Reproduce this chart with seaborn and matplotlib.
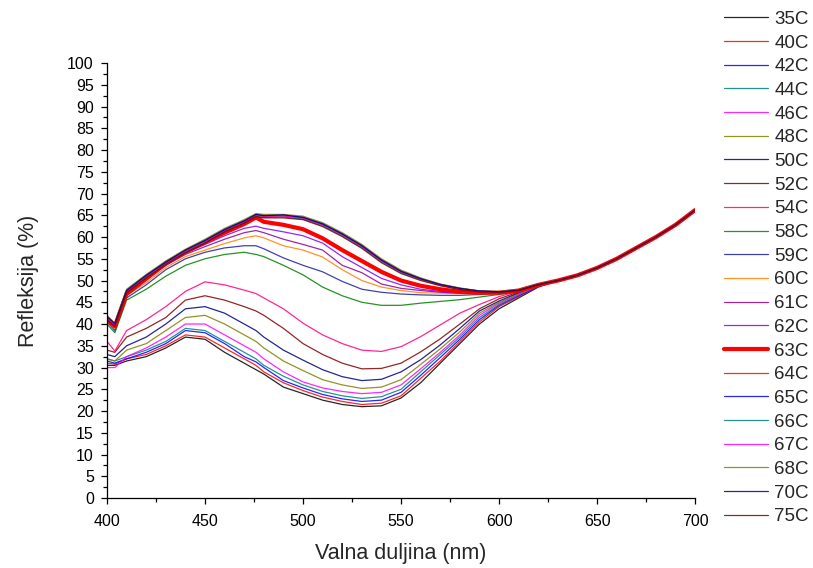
import matplotlib
matplotlib.use("Agg")
import matplotlib.pyplot as plt
import pandas as pd
import seaborn as sns
from matplotlib.ticker import MultipleLocator

# wavelengths (nm) where the curves still differ
wl_head = [400, 404, 410, 420, 430, 440, 450, 460, 470, 476, 480, 490, 500, 510,
           520, 530, 540, 550, 560, 570, 580, 590, 600, 610, 620, 630]
# above 630 nm all curves run together
wl_tail = [640, 650, 660, 670, 680, 690, 700]
r_tail = [51.2, 52.9, 55.0, 57.5, 60.0, 62.8, 66.2]

r35 = [30.5, 30.5, 31.5, 32.5, 34.5, 37.0, 36.5, 33.5, 31.0, 29.5, 28.5, 25.5, 24.0, 22.5,
       21.5, 21.0, 21.2, 23.0, 26.5, 31.0, 35.5, 40.0, 43.5, 46.0, 48.5, 50.0]
r40 = [31.0, 30.8, 32.0, 33.0, 35.0, 37.5, 37.0, 34.5, 32.0, 30.5, 29.0, 26.5, 24.7, 23.2,
       22.2, 21.5, 21.8, 23.5, 27.5, 31.5, 36.0, 40.5, 44.0, 46.3, 48.6, 50.0]
r42 = [31.5, 31.0, 32.0, 33.5, 35.5, 38.5, 38.0, 35.5, 32.5, 31.3, 30.0, 27.0, 25.3, 23.8,
       22.8, 22.2, 22.5, 24.3, 28.2, 32.3, 36.5, 41.0, 44.3, 46.5, 48.7, 50.0]
r44 = [32.0, 31.5, 32.5, 34.0, 36.0, 39.0, 38.5, 36.0, 33.5, 32.0, 30.5, 28.0, 26.0, 24.5,
       23.5, 22.9, 23.3, 25.0, 29.0, 33.0, 37.0, 41.5, 44.5, 46.7, 48.8, 50.0]
r46 = [30.0, 30.0, 32.5, 34.5, 37.0, 40.0, 40.0, 37.5, 35.0, 33.5, 32.0, 29.0, 26.7, 25.3,
       24.5, 24.0, 24.3, 26.0, 29.7, 33.5, 37.5, 42.0, 44.8, 46.8, 48.8, 50.0]
r48 = [32.0, 31.5, 34.0, 35.5, 38.5, 41.5, 42.0, 40.0, 37.5, 36.0, 34.5, 31.5, 29.3, 27.2,
       26.0, 25.2, 25.5, 27.2, 30.7, 34.3, 38.2, 42.5, 45.0, 47.0, 48.9, 50.0]
r50 = [33.0, 32.5, 35.0, 37.0, 40.0, 43.5, 44.0, 42.5, 40.0, 38.5, 37.0, 34.0, 31.7, 29.5,
       27.9, 27.0, 27.3, 29.0, 31.8, 35.2, 39.0, 43.0, 45.3, 47.2, 49.0, 50.0]
r52 = [34.0, 33.5, 37.0, 39.0, 41.5, 45.5, 46.5, 45.5, 44.0, 43.0, 42.0, 39.0, 35.5, 33.0,
       31.0, 29.7, 29.8, 31.0, 33.6, 36.6, 40.0, 43.5, 45.8, 47.4, 49.0, 50.0]
r54 = [36.0, 33.8, 38.5, 41.0, 44.0, 47.5, 49.7, 49.0, 47.8, 47.0, 46.0, 43.5, 40.2, 37.5,
       35.5, 34.0, 33.7, 34.8, 37.1, 39.8, 42.5, 44.5, 46.3, 47.6, 49.1, 50.0]
r58 = [40.0, 38.0, 45.5, 48.0, 51.0, 53.5, 55.0, 56.0, 56.5, 56.0, 55.5, 53.5, 51.3, 48.5,
       46.5, 45.0, 44.3, 44.3, 44.8, 45.2, 45.6, 46.2, 46.8, 47.5, 48.8, 50.0]
r59 = [40.5, 38.5, 46.0, 49.0, 52.5, 55.0, 56.5, 57.5, 58.0, 58.0, 57.3, 55.2, 53.5, 52.0,
       49.8, 48.0, 47.3, 46.9, 46.7, 46.6, 46.6, 46.8, 47.1, 47.6, 48.9, 50.0]
r60 = [41.0, 39.0, 46.5, 49.5, 53.0, 55.5, 57.0, 58.5, 59.8, 60.3, 59.8, 58.0, 57.0, 55.4,
       52.5, 50.0, 48.5, 47.7, 47.2, 47.1, 47.0, 47.0, 47.2, 47.7, 49.0, 50.0]
r61 = [41.0, 39.2, 46.5, 50.0, 53.5, 56.0, 57.8, 59.5, 61.0, 61.5, 61.0, 59.5, 58.3, 57.0,
       53.5, 51.8, 49.2, 48.2, 47.7, 47.3, 47.1, 47.1, 47.2, 47.7, 49.0, 50.0]
r62 = [41.0, 39.3, 47.0, 50.5, 53.5, 56.3, 58.3, 60.3, 62.0, 62.5, 62.0, 61.2, 60.3, 58.6,
       55.5, 53.0, 50.5, 49.0, 48.0, 47.5, 47.2, 47.1, 47.2, 47.7, 49.0, 50.0]
r63 = [41.0, 39.5, 47.0, 50.5, 54.0, 56.6, 58.8, 61.0, 63.0, 64.5, 63.5, 62.8, 61.8, 59.7,
       57.0, 54.5, 52.0, 50.0, 48.8, 48.0, 47.4, 47.2, 47.2, 47.7, 49.0, 50.0]
r64 = [41.5, 39.8, 47.5, 51.0, 54.0, 56.8, 59.0, 61.5, 63.5, 65.0, 64.7, 64.8, 64.3, 62.8,
       60.5, 57.8, 54.5, 52.0, 50.3, 49.0, 48.1, 47.5, 47.4, 47.8, 49.1, 50.0]
r65 = [41.8, 40.0, 47.8, 51.2, 54.3, 57.0, 59.3, 61.8, 63.8, 65.2, 65.0, 65.0, 64.6, 63.1,
       60.8, 58.1, 54.8, 52.2, 50.5, 49.1, 48.2, 47.6, 47.4, 47.8, 49.1, 50.0]
r66 = [41.2, 39.6, 47.3, 50.8, 53.8, 56.6, 58.8, 61.3, 63.3, 64.8, 64.5, 64.6, 64.1, 62.6,
       60.3, 57.6, 54.3, 51.8, 50.2, 48.9, 48.0, 47.5, 47.3, 47.8, 49.1, 50.0]
r67 = [41.6, 39.9, 47.6, 51.1, 54.1, 56.9, 59.1, 61.6, 63.6, 65.1, 64.8, 64.9, 64.4, 62.9,
       60.6, 57.9, 54.6, 52.1, 50.4, 49.0, 48.1, 47.5, 47.4, 47.8, 49.1, 50.0]
r68 = [42.0, 40.2, 48.0, 51.4, 54.5, 57.2, 59.5, 62.0, 64.0, 65.4, 65.2, 65.2, 64.8, 63.3,
       61.0, 58.3, 55.0, 52.4, 50.6, 49.2, 48.3, 47.6, 47.5, 47.9, 49.2, 50.0]
r70 = [41.7, 40.1, 47.7, 51.2, 54.2, 57.0, 59.2, 61.7, 63.7, 65.2, 64.9, 65.1, 64.5, 63.0,
       60.7, 58.0, 54.7, 52.1, 50.4, 49.1, 48.2, 47.6, 47.4, 47.8, 49.1, 50.0]
r75 = [41.0, 39.5, 47.2, 50.6, 53.7, 56.4, 58.6, 61.2, 63.2, 64.7, 64.4, 64.4, 64.0, 62.4,
       60.1, 57.4, 54.1, 51.6, 50.0, 48.8, 47.9, 47.4, 47.3, 47.7, 49.0, 50.0]

labels = ["35C", "40C", "42C", "44C", "46C", "48C", "50C", "52C", "54C", "58C", "59C",
          "60C", "61C", "62C", "63C", "64C", "65C", "66C", "67C", "68C", "70C", "75C"]
curves = [r35, r40, r42, r44, r46, r48, r50, r52, r54, r58, r59,
          r60, r61, r62, r63, r64, r65, r66, r67, r68, r70, r75]
colors = ["#000000", "#ff0000", "#0000ff", "#008080", "#ff00ff", "#808000", "#000080",
          "#800000", "#ff0080", "#008000", "#2020a0", "#ff8000", "#900090", "#8000ff",
          "#ff0000", "#ff0000", "#0000ff", "#008080", "#ff00ff", "#808000", "#000080",
          "#800000"]

rows = []
for lab, vals in zip(labels, curves):
    for w, r in zip(wl_head + wl_tail, vals + r_tail):
        rows.append((lab, w, r))
df = pd.DataFrame(rows, columns=["temp", "nm", "refl"])

sns.set_style("ticks")
plt.rcParams["font.family"] = ["Liberation Sans", "DejaVu Sans"]

fig = plt.figure(figsize=(8.13, 5.68), dpi=100)
ax = fig.add_axes([0.1316, 0.1232, 0.855 - 0.1316, 0.889 - 0.1232])

for lab, col in zip(labels, colors):
    lw = 3.0 if lab == "63C" else 0.9
    sns.lineplot(data=df[df["temp"] == lab], x="nm", y="refl", ax=ax,
                 color=col, linewidth=lw, alpha=0.85 if lw < 2 else 1.0,
                 label=lab, legend=False)

ax.set_xlim(400, 700)
ax.set_ylim(0, 100)
ax.xaxis.set_major_locator(MultipleLocator(50))
ax.xaxis.set_minor_locator(MultipleLocator(25))
ax.yaxis.set_major_locator(MultipleLocator(5))
ax.yaxis.set_minor_locator(MultipleLocator(2.5))
ax.tick_params(which="major", length=4.5, width=0.9, labelsize=11.5, color="black",
               labelcolor="black")
ax.tick_params(axis="x", which="major", pad=7)
ax.tick_params(axis="y", which="major", pad=5)
ax.tick_params(which="minor", length=3, width=0.9, color="black")
for s in ["left", "bottom"]:
    ax.spines[s].set_linewidth(0.9)
    ax.spines[s].set_color("black")
sns.despine(ax=ax)

ax.set_xlabel("Valna duljina (nm)", fontsize=15.5, labelpad=10)
ax.set_ylabel("Refleksija (%)", fontsize=15.5, labelpad=20)

handles = ax.get_lines()
fig.legend(handles, labels, loc="upper left", bbox_to_anchor=(0.89, 0.981),
           frameon=False, fontsize=13.5, handlelength=2.35, handletextpad=0.35,
           labelspacing=0.35, borderpad=0.0, borderaxespad=0.0)

fig.savefig("out.png", dpi=100)
